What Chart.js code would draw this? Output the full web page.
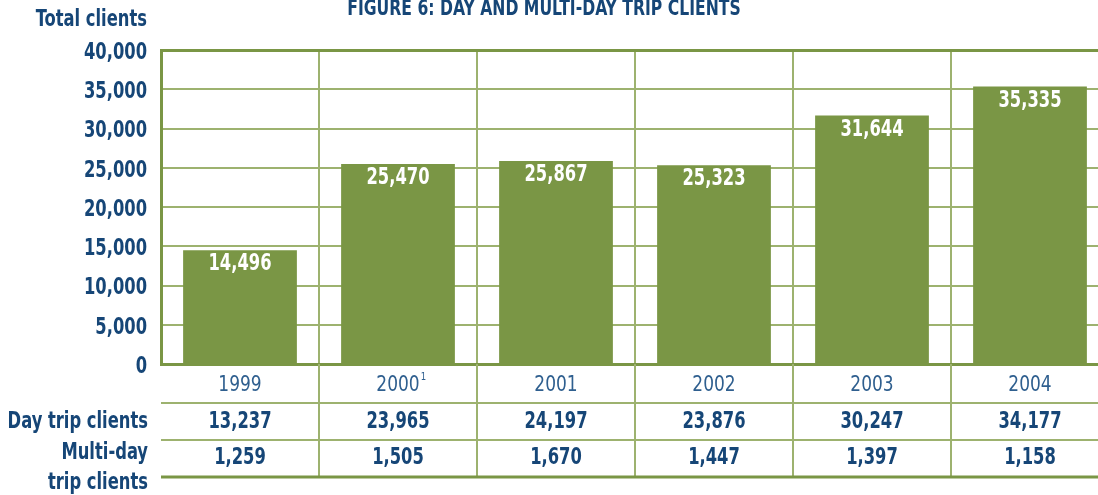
<!DOCTYPE html>
<html>
<head>
<meta charset="utf-8">
<script src="https://cdn.jsdelivr.net/npm/chart.js@4/dist/chart.umd.min.js"></script>
<style>
  html, body { margin: 0; padding: 0; background: #fff; overflow: hidden; }
  #wrap { width: 1112px; height: 495px; }
</style>
</head>
<body>
<div id="wrap"><canvas id="chart" width="1112" height="495"></canvas></div>
<script>
// データ
const years = ['1999', '2000', '2001', '2002', '2003', '2004'];
const yearNotes = ['', '1', '', '', '', ''];
const totalClients = [14496, 25470, 25867, 25323, 31644, 35335];
const dayTripClients = [13237, 23965, 24197, 23876, 30247, 34177];
const multiDayClients = [1259, 1505, 1670, 1447, 1397, 1158];
const yMax = 40000;
const yStep = 5000;

const BLUE = '#164677';
const YEAR_BLUE = '#2f5f8f';
const GREEN = '#7a9645';
const GRID = '#9db26f';
const FONT = '"DejaVu Sans Condensed", "Liberation Sans Narrow", sans-serif';
const BOLD = 'bold 23px ' + FONT;
const SX = 0.79; // 横方向に詰める

function fmt(n) {
    return n.toLocaleString('en-US');
}

// 幅を詰めて文字を描く
function narrowText(ctx, text, x, y, align, font, color, sx) {
    ctx.save();
    ctx.font = font;
    ctx.fillStyle = color;
    ctx.textBaseline = 'middle';
    ctx.textAlign = align;
    ctx.translate(x, y);
    ctx.scale(sx, 1);
    ctx.fillText(text, 0, 0);
    const w = ctx.measureText(text).width * sx;
    ctx.restore();
    return w;
}

// カテゴリの境界を求める
function boundaries(x) {
    const half = (x.getPixelForValue(1) - x.getPixelForValue(0)) / 2;
    const out = [];
    for (let i = 0; i < years.length; i++) out.push(x.getPixelForValue(i) - half);
    out.push(x.getPixelForValue(years.length - 1) + half);
    return out;
}

const tablePlugin = {
    id: 'tablePlugin',
    afterDatasetsDraw(chart) {
        const ctx = chart.ctx;
        const meta = chart.getDatasetMeta(0);
        meta.data.forEach((bar, i) => {
            narrowText(ctx, fmt(totalClients[i]), bar.x, bar.y + 14, 'center', BOLD, '#ffffff', SX);
        });
    },
    afterDraw(chart) {
        const ctx = chart.ctx;
        const x = chart.scales.x;
        const y = chart.scales.y;
        const area = chart.chartArea;
        const b = boundaries(x);
        const rowLines = [403, 440, 477];

        // タイトル
        narrowText(ctx, 'FIGURE 6: DAY AND MULTI-DAY TRIP CLIENTS', 544, 9, 'center', 'bold 22px ' + FONT, BLUE, SX);
        narrowText(ctx, 'Total clients', 147, 20, 'right', BOLD, BLUE, SX);

        // y軸の目盛り
        y.ticks.forEach(t => {
            narrowText(ctx, fmt(t.value), 147, y.getPixelForValue(t.value) + 3, 'right', BOLD, BLUE, SX);
        });

        // 表の線
        ctx.save();
        ctx.strokeStyle = GRID;
        ctx.lineWidth = 2;
        for (let i = 1; i < b.length - 1; i++) {
            ctx.beginPath();
            ctx.moveTo(b[i], area.bottom);
            ctx.lineTo(b[i], rowLines[2]);
            ctx.stroke();
        }
        rowLines.forEach((ly, i) => {
            ctx.strokeStyle = i === 2 ? GREEN : GRID;
            ctx.lineWidth = i === 2 ? 3 : 2;
            ctx.beginPath();
            ctx.moveTo(area.left, ly);
            ctx.lineTo(chart.width, ly);
            ctx.stroke();
        });
        ctx.restore();

        // 年のラベル
        years.forEach((yr, i) => {
            const cx = x.getPixelForValue(i);
            const w = narrowText(ctx, yr, cx, 385, 'center', '22px ' + FONT, YEAR_BLUE, 0.86);
            if (yearNotes[i]) {
                narrowText(ctx, yearNotes[i], cx + w / 2 + 1, 377, 'left', '11px ' + FONT, YEAR_BLUE, 0.86);
            }
        });

        // 表の値
        years.forEach((yr, i) => {
            const cx = x.getPixelForValue(i);
            narrowText(ctx, fmt(dayTripClients[i]), cx, 422, 'center', BOLD, BLUE, SX);
            narrowText(ctx, fmt(multiDayClients[i]), cx, 458, 'center', BOLD, BLUE, SX);
        });

        // 行見出し
        narrowText(ctx, 'Day trip clients', 148, 422, 'right', BOLD, BLUE, SX);
        narrowText(ctx, 'Multi-day', 148, 453, 'right', BOLD, BLUE, SX);
        narrowText(ctx, 'trip clients', 148, 483, 'right', BOLD, BLUE, SX);
    }
};

new Chart(document.getElementById('chart'), {
    type: 'bar',
    data: {
        labels: years,
        datasets: [{
            label: 'Total clients',
            data: totalClients,
            backgroundColor: GREEN,
            borderWidth: 0,
            barPercentage: 0.72,
            categoryPercentage: 1
        }]
    },
    options: {
        responsive: false,
        animation: false,
        layout: { padding: { top: 50, right: 3, left: 0, bottom: 0 } },
        plugins: {
            legend: { display: false },
            title: { display: false },
            tooltip: { enabled: false }
        },
        scales: {
            x: {
                offset: true,
                grid: {
                    offset: true,
                    color: GRID,
                    lineWidth: 2,
                    drawTicks: false
                },
                border: { display: true, color: GREEN, width: 3 },
                ticks: { display: false },
                afterFit(scale) { scale.height = 131; }
            },
            y: {
                min: 0,
                max: yMax,
                ticks: { stepSize: yStep, display: false },
                grid: {
                    color: ctx => ctx.tick && ctx.tick.value === yMax ? GREEN : GRID,
                    lineWidth: ctx => ctx.tick && ctx.tick.value === yMax ? 3 : 2,
                    drawTicks: false
                },
                border: { display: true, color: GREEN, width: 3 },
                afterFit(scale) { scale.width = 161; }
            }
        }
    },
    plugins: [tablePlugin]
});
</script>
</body>
</html>
